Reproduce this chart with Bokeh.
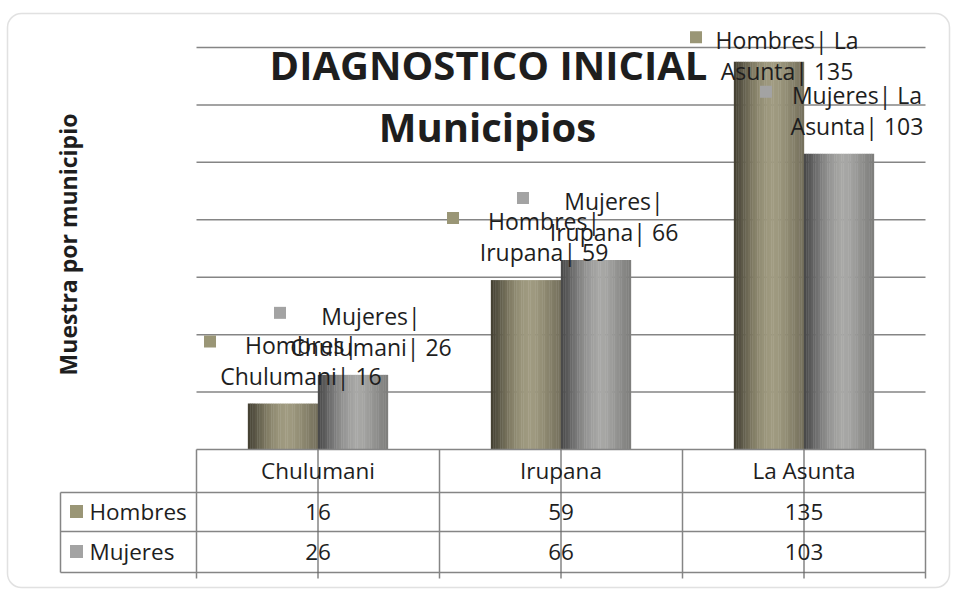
import math
from bokeh.plotting import figure
from bokeh.models import Range1d, BoxAnnotation
from bokeh.core.properties import value
from bokeh.embed import file_html
from bokeh.resources import INLINE

# ---------------- data ----------------
categories = ["Chulumani", "Irupana", "La Asunta"]
series_names = ["Hombres", "Mujeres"]
hombres = [16, 59, 135]
mujeres = [26, 66, 103]
y_ticks = [0, 20, 40, 60, 80, 100, 120, 140]
title_lines = ["DIAGNOSTICO INICIAL", "Municipios"]
y_label = "Muestra por municipio"

# ---------------- layout / style ----------------
W, H = 952, 590
X0_PX, CAT_PX, Y0_PX, PPU = 196.0, 243.0, 449.0, 2.8714


def dx(px):
    return (px - X0_PX) / CAT_PX


def dy(py):
    return (Y0_PX - py) / PPU


FONT = value("Open Sans")
TXT = "#1e1e1e"
LINE = "#858585"
BAR_W = 0.288
LABEL_CAP = 122

H_SHADE = ["#464234", "#5a5646", "#6e6a56", "#827d66", "#918c73", "#9b967c",
           "#a09b81", "#9d987e", "#959077", "#8a856e", "#7f7a65", "#76715d"]
M_SHADE = ["#4a4a4a", "#5d5d5d", "#727272", "#858584", "#959594", "#a0a09e",
           "#a8a8a6", "#a6a6a4", "#9d9d9b", "#929290", "#888886", "#7f7f7d"]
H_KEY = "#9a9676"
M_KEY = "#a3a3a3"


def smooth(stops, n):
    rgb = [tuple(int(s[j:j + 2], 16) for j in (1, 3, 5)) for s in stops]
    out = []
    for k in range(n):
        t = k / (n - 1) * (len(rgb) - 1)
        i = min(int(t), len(rgb) - 2)
        f = t - i
        c = [round(rgb[i][j] + (rgb[i + 1][j] - rgb[i][j]) * f) for j in range(3)]
        out.append("#%02x%02x%02x" % tuple(c))
    return out


p = figure(width=W, height=H, output_backend="svg", toolbar_location=None,
           x_range=Range1d(dx(0), dx(W)), y_range=Range1d(dy(H), dy(0)),
           x_axis_location=None, y_axis_location=None, min_border=0,
           background_fill_color="white", border_fill_color="white")
p.grid.visible = False
p.outline_line_color = None

# gridlines (value ticks)
grid_vals = y_ticks[1:]
p.segment(x0=[0] * len(grid_vals), x1=[3] * len(grid_vals), y0=grid_vals, y1=grid_vals,
          line_color=LINE, line_width=1.5)

# cylinder-like bars drawn as shaded strips
n_cat = len(categories)
for vals, stops, off in ((hombres, H_SHADE, -BAR_W / 2), (mujeres, M_SHADE, BAR_W / 2)):
    shade = smooth(stops, 30)
    n = len(shade)
    sw = BAR_W / n
    for k, col in enumerate(shade):
        xs = [i + 0.5 + off - BAR_W / 2 + (k + 0.5) * sw for i in range(n_cat)]
        p.vbar(x=xs, top=vals, bottom=0, width=sw * 1.15, fill_color=col, line_color=None)


# data labels
def wrap(label, limit=13):
    words = label.split(" ")
    lines = [words[0]]
    for w in words[1:]:
        if len(lines[-1]) + 1 + len(w) <= limit:
            lines[-1] += " " + w
        else:
            lines.append(w)
    return lines


for sname, vals, off, key in (("Hombres", hombres, -BAR_W / 2, H_KEY),
                              ("Mujeres", mujeres, BAR_W / 2, M_KEY)):
    l1x, l1y, l1t, l2y, l2t, kx, ky = [], [], [], [], [], [], []
    for i, (c, v) in enumerate(zip(categories, vals)):
        lines = wrap(f"{sname}| {c}| {v}")
        a = min(v, LABEL_CAP)
        bx = i + 0.5 + off
        l1x.append(bx + 18 / CAT_PX)
        l1y.append(a + 59 / PPU)
        l1t.append(lines[0])
        l2y.append(a + 28 / PPU)
        l2t.append(" ".join(lines[1:]))
        kx.append(bx - 73 / CAT_PX)
        ky.append(a + 62 / PPU)
    p.scatter(x=kx, y=ky, marker="square", size=12, fill_color=key, line_color=None)
    p.text(x=l1x, y=l1y, text=l1t, text_align="center", text_baseline="middle",
           text_font=FONT, text_font_size="23px", text_color=TXT)
    p.text(x=l1x, y=l2y, text=l2t, text_align="center", text_baseline="middle",
           text_font=FONT, text_font_size="23px", text_color=TXT)

# data table
tl_y = [0, dy(492), dy(531), dy(572)]
p.segment(x0=[0, dx(60), dx(60), dx(60)], x1=[3, 3, 3, 3], y0=tl_y, y1=tl_y,
          line_color=LINE, line_width=1.5)
vx = [0, 1, 2, 3]
p.segment(x0=vx, x1=vx, y0=[0] * 4, y1=[dy(578)] * 4, line_color=LINE, line_width=1.5)
p.segment(x0=[dx(60)], x1=[dx(60)], y0=[dy(492)], y1=[dy(572)], line_color=LINE, line_width=1.5)
cx = [i + 0.5 for i in range(n_cat)]
p.segment(x0=cx, x1=cx, y0=[0] * n_cat, y1=[dy(578)] * n_cat, line_color="#666666", line_width=1.2)

TBL_SIZE = "22.5px"
p.text(x=cx, y=[dy(470)] * n_cat, text=categories, text_align="center", text_baseline="middle",
       text_font=FONT, text_font_size=TBL_SIZE, text_color=TXT)
p.text(x=cx, y=[dy(511)] * n_cat, text=[str(v) for v in hombres], text_align="center",
       text_baseline="middle", text_font=FONT, text_font_size=TBL_SIZE, text_color=TXT)
p.text(x=cx, y=[dy(551)] * n_cat, text=[str(v) for v in mujeres], text_align="center",
       text_baseline="middle", text_font=FONT, text_font_size=TBL_SIZE, text_color=TXT)
p.scatter(x=[dx(76)] * 2, y=[dy(511), dy(551)], marker="square", size=13,
          fill_color=[H_KEY, M_KEY], line_color=None)
p.text(x=[dx(89)] * 2, y=[dy(511), dy(551)], text=series_names, text_align="left",
       text_baseline="middle", text_font=FONT, text_font_size=TBL_SIZE, text_color=TXT)

# titles
p.text(x=[dx(488)], y=[dy(64)], text=[title_lines[0]], text_align="center",
       text_baseline="middle", text_font=FONT, text_font_style="bold",
       text_font_size="40px", text_color=TXT)
p.text(x=[dx(487)], y=[dy(126)], text=[title_lines[1]], text_align="center",
       text_baseline="middle", text_font=FONT, text_font_style="bold",
       text_font_size="40px", text_color=TXT)
p.text(x=[dx(67)], y=[dy(244)], text=[y_label], angle=math.pi / 2, text_align="center",
       text_baseline="middle", text_font=FONT, text_font_style="bold",
       text_font_size="23px", text_color=TXT)

# rounded chart border
p.add_layout(BoxAnnotation(left=dx(7), right=dx(949), top=dy(13), bottom=dy(587),
                           fill_color=None, line_color="#9a9a9a", line_width=1.5,
                           border_radius=14))

open("out.html", "w").write(file_html(p, INLINE))
